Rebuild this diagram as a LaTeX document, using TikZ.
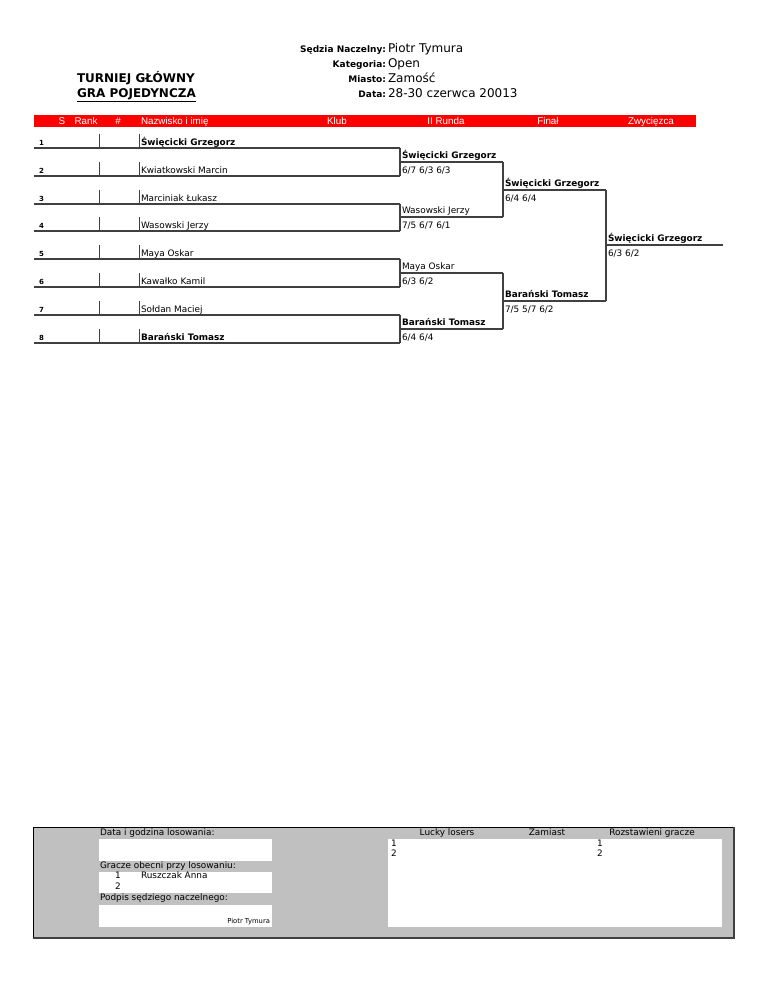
\documentclass[tikz,border=0pt]{standalone}
\usepackage{fontspec}
\setmainfont{DejaVu Sans}
\newfontfamily\barfont{Liberation Sans}
\usetikzlibrary{positioning}
\definecolor{barred}{RGB}{255,0,0}
\definecolor{panelgray}{RGB}{192,192,192}
\definecolor{linegray}{RGB}{64,64,64}

\begin{document}
\begin{tikzpicture}[
    x=1pt, y=-1pt,
    every node/.style={inner sep=0pt, outer sep=0pt},
    headline/.style={font=\bfseries\fontsize{12}{14}\selectfont, anchor=base west},
    metakey/.style={font=\bfseries\fontsize{9}{10}\selectfont, anchor=base east},
    metaval/.style={font=\fontsize{12}{13}\selectfont, anchor=base west},
    colhead/.style={font=\barfont\fontsize{9.8}{10}\selectfont, text=white, anchor=base},
    seed/.style={font=\bfseries\fontsize{7}{8}\selectfont, anchor=base west},
    player/.style={font=\fontsize{8.9}{10}\selectfont, anchor=base west},
    winner/.style={font=\bfseries\fontsize{8.9}{10}\selectfont, anchor=base west},
    result/.style={font=\fontsize{8.9}{10}\selectfont, anchor=base west},
    rowline/.style={draw=linegray, line width=1.6pt},
    cellsep/.style={draw=linegray, line width=0.8pt},
    brk/.style={draw=linegray, line width=1.3pt},
    boxtext/.style={font=\fontsize{8.9}{10}\selectfont, anchor=base west},
    boxhead/.style={font=\fontsize{8.9}{10}\selectfont, anchor=base}]

  \useasboundingbox (0,0) rectangle (768,994);

  % title and meta data
  \node[headline] (t1) at (77,82.5) {TURNIEJ GŁÓWNY};
  \node[headline] (t2) at (77,97.5) {\underline{GRA POJEDYNCZA}};

  \node[metakey] (k1) at (386,52)   {Sędzia Naczelny:};
  \node[metakey] (k2) at (386,67.5) {Kategoria:};
  \node[metakey] (k3) at (386,82.5) {Miasto:};
  \node[metakey] (k4) at (386,97)   {Data:};
  \node[metaval] (v1) at (388,52)   {Piotr Tymura};
  \node[metaval] (v2) at (388,67.5) {Open};
  \node[metaval] (v3) at (388,82.5) {Zamość};
  \node[metaval] (v4) at (388,97)   {28-30 czerwca 20013};

  % red column bar
  \fill[barred] (34,115) rectangle (696,127);
  \node[colhead] (hs)    at (62,124.5)  {S};
  \node[colhead] (hrank) at (86,124.5)  {Rank};
  \node[colhead] (hnr)   at (118,124.5) {\#};
  \node[colhead, anchor=base west] (hname) at (141,124.5) {Nazwisko i imię};
  \node[colhead] (hklub) at (337,124.5) {Klub};
  \node[colhead] (hr2)   at (446,124.5) {II Runda};
  \node[colhead] (hfin)  at (548,124.5) {Finał};
  \node[colhead] (hwin)  at (651,124.5) {Zwycięzca};

  \def\yA{148}
  \def\yB{176}
  \def\yC{204}
  \def\yD{231}
  \def\yE{259}
  \def\yF{287}
  \def\yG{315}
  \def\yH{343}

  \coordinate (lft) at (34,0);
  \coordinate (r1) at (400,\yA);
  \coordinate (r2) at (400,\yB);
  \coordinate (r3) at (400,\yC);
  \coordinate (r4) at (400,\yD);
  \coordinate (r5) at (400,\yE);
  \coordinate (r6) at (400,\yF);
  \coordinate (r7) at (400,\yG);
  \coordinate (r8) at (400,\yH);

  % draw rows
  \node[seed] (n1) at (39,{\yA-3}) {1};
  \node[seed] (n2) at (39,{\yB-3}) {2};
  \node[seed] (n3) at (39,{\yC-3}) {3};
  \node[seed] (n4) at (39,{\yD-3}) {4};
  \node[seed] (n5) at (39,{\yE-3}) {5};
  \node[seed] (n6) at (39,{\yF-3}) {6};
  \node[seed] (n7) at (39,{\yG-3}) {7};
  \node[seed] (n8) at (39,{\yH-3}) {8};

  \node[winner] (p1) at (141,{\yA-3}) {Święcicki Grzegorz};
  \node[player] (p2) at (141,{\yB-3}) {Kwiatkowski Marcin};
  \node[player] (p3) at (141,{\yC-3}) {Marciniak Łukasz};
  \node[player] (p4) at (141,{\yD-3}) {Wasowski Jerzy};
  \node[player] (p5) at (141,{\yE-3}) {Maya Oskar};
  \node[player] (p6) at (141,{\yF-3}) {Kawałko Kamil};
  \node[player] (p7) at (141,{\yG-3}) {Sołdan Maciej};
  \node[winner] (p8) at (141,{\yH-3}) {Barański Tomasz};

  \draw[rowline] (lft |- r1) -- (r1);
  \draw[rowline] (lft |- r2) -- (r2);
  \draw[rowline] (lft |- r3) -- (r3);
  \draw[rowline] (lft |- r4) -- (r4);
  \draw[rowline] (lft |- r5) -- (r5);
  \draw[rowline] (lft |- r6) -- (r6);
  \draw[rowline] (lft |- r7) -- (r7);
  \draw[rowline] (lft |- r8) -- (r8);

  \draw[cellsep] (99,\yA) -- +(0,-14) (139,\yA) -- +(0,-14);
  \draw[cellsep] (99,\yB) -- +(0,-14) (139,\yB) -- +(0,-14);
  \draw[cellsep] (99,\yC) -- +(0,-14) (139,\yC) -- +(0,-14);
  \draw[cellsep] (99,\yD) -- +(0,-14) (139,\yD) -- +(0,-14);
  \draw[cellsep] (99,\yE) -- +(0,-14) (139,\yE) -- +(0,-14);
  \draw[cellsep] (99,\yF) -- +(0,-14) (139,\yF) -- +(0,-14);
  \draw[cellsep] (99,\yG) -- +(0,-14) (139,\yG) -- +(0,-14);
  \draw[cellsep] (99,\yH) -- +(0,-14) (139,\yH) -- +(0,-14);

  % bracket
  \coordinate (q1) at (503,162);
  \coordinate (q2) at (503,217);
  \coordinate (q3) at (503,273);
  \coordinate (q4) at (503,329);
  \coordinate (f1) at (606,190);
  \coordinate (f2) at (606,301);
  \coordinate (w)  at (723,245);

  \draw[brk] (r1) -- (r2);
  \draw[brk] (r3) -- (r4);
  \draw[brk] (r5) -- (r6);
  \draw[brk] (r7) -- (r8);
  \draw[brk] (r1 |- q1) -- (q1);
  \draw[brk] (r3 |- q2) -- (q2);
  \draw[brk] (r5 |- q3) -- (q3);
  \draw[brk] (r7 |- q4) -- (q4);
  \draw[brk] (q1) -- (q2);
  \draw[brk] (q3) -- (q4);
  \draw[brk] (q1 |- f1) -- (f1);
  \draw[brk] (q3 |- f2) -- (f2);
  \draw[brk] (f1) -- (f2);
  \draw[brk] (f1 |- w) -- (w);

  \node[winner] (q1n) at (402,158) {Święcicki Grzegorz};
  \node[result] (q1s) at (402,173) {6/7 6/3 6/3};
  \node[player] (q2n) at (402,213) {Wasowski Jerzy};
  \node[result] (q2s) at (402,228) {7/5 6/7 6/1};
  \node[player] (q3n) at (402,269) {Maya Oskar};
  \node[result] (q3s) at (402,284) {6/3 6/2};
  \node[winner] (q4n) at (402,325) {Barański Tomasz};
  \node[result] (q4s) at (402,340) {6/4 6/4};

  \node[winner] (f1n) at (505,186) {Święcicki Grzegorz};
  \node[result] (f1s) at (505,201) {6/4 6/4};
  \node[winner] (f2n) at (505,297) {Barański Tomasz};
  \node[result] (f2s) at (505,312) {7/5 5/7 6/2};

  \node[winner] (wn) at (608,241) {Święcicki Grzegorz};
  \node[result] (ws) at (608,256) {6/3 6/2};

  % draw panel
  \fill[panelgray] (33,827) rectangle (734,938);
  \draw[black, line width=0.8pt] (33,938) -- (33,827) -- (734,827);
  \draw[linegray, line width=2pt] (33,938) -- (734,938) -- (734,827);
  \fill[white] (99,839) rectangle (272,861);
  \fill[white] (99,872) rectangle (272,893);
  \fill[white] (99,905) rectangle (272,927);
  \fill[white] (388,839) rectangle (722,927);

  \node[boxtext] (dl) at (100,835)   {Data i godzina losowania:};
  \node[boxtext] (gl) at (100,868.5) {Gracze obecni przy losowaniu:};
  \node[boxtext, anchor=base] (g1) at (118,878) {1};
  \node[boxtext] (g1n) at (141,878) {Ruszczak Anna};
  \node[boxtext, anchor=base] (g2) at (118,889.5) {2};
  \node[boxtext] (pl) at (100,900.5) {Podpis sędziego naczelnego:};
  \node[font=\fontsize{6.8}{8}\selectfont, anchor=base east] (ps) at (270,923) {Piotr Tymura};

  \node[boxhead] (ll) at (447,835) {Lucky losers};
  \node[boxhead] (zm) at (547,835) {Zamiast};
  \node[boxhead] (rg) at (652,835) {Rozstawieni gracze};
  \node[boxtext] (l1) at (391,846.5) {1};
  \node[boxtext] (l2) at (391,856.5) {2};
  \node[boxtext] (s1) at (597,846.5) {1};
  \node[boxtext] (s2) at (597,856.5) {2};
\end{tikzpicture}
\end{document}
